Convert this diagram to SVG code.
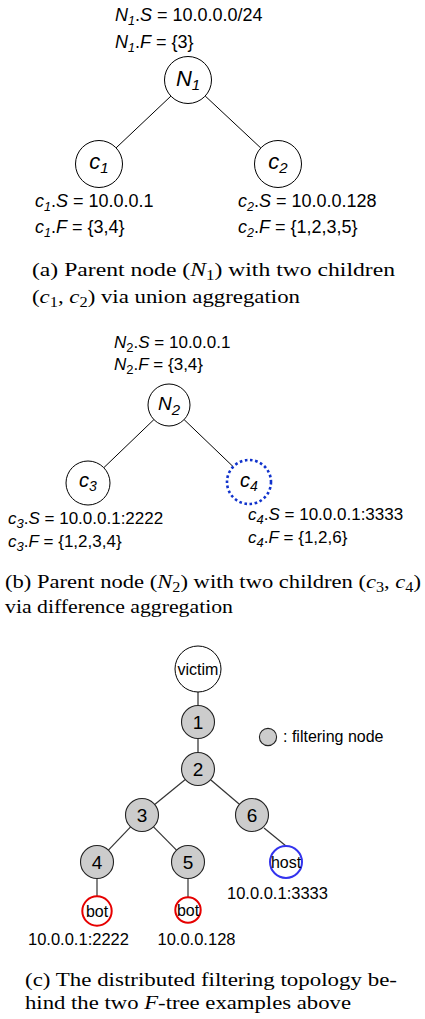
<svg xmlns="http://www.w3.org/2000/svg" width="425" height="1019" viewBox="0 0 425 1019">
<style>
  .sans { font-family: "Liberation Sans", Arial, sans-serif; fill: #000; }
  .serif { font-family: "Liberation Serif", "Times New Roman", serif; fill: #000; font-size: 19.5px; }
  .it { font-style: italic; }
  .la { font-size: 18px; }
  .lb { font-size: 17px; }
  .node { fill: #fff; stroke: #000; stroke-width: 1; }
  .fnode { fill: #cccccc; stroke: #222; stroke-width: 1.1; }
  .edge { stroke: #000; stroke-width: 1; fill: none; }
  .edgec { stroke: #333; stroke-width: 1.2; fill: none; }
  .bot { fill: #fff; stroke: #e60000; stroke-width: 2; }
  .host { fill: #fff; stroke: #3333ee; stroke-width: 2; }
  .dotted { fill: #fff; stroke: #1133cc; stroke-width: 2.6; stroke-dasharray: 2.6 2.6; }
  .nl { font-size: 19px; text-anchor: middle; }
  .tl { font-size: 16px; text-anchor: middle; }
</style>

<!-- connectors -->
<g id="connectors">
  <line class="edge" x1="170.9" y1="96.1" x2="116.1" y2="147.9"/>
  <line class="edge" x1="205.2" y1="96.0" x2="260.8" y2="148.0"/>
  <line class="edge" x1="153.9" y1="419.6" x2="103.8" y2="467.7"/>
  <line class="edge" x1="184.1" y1="419.6" x2="233.2" y2="466.7"/>
  <line class="edgec" x1="198" y1="692" x2="198" y2="705.5" style="stroke:#555;stroke-width:1.5"/>
  <line class="edgec" x1="198" y1="738.5" x2="198" y2="752.5" style="stroke:#555;stroke-width:1.5"/>
  <line class="edgec" x1="185.3" y1="779.5" x2="154.7" y2="804.5"/>
  <line class="edgec" x1="210.6" y1="779.7" x2="239.4" y2="804.3"/>
  <line class="edgec" x1="130.6" y1="826.9" x2="108.4" y2="850.1"/>
  <line class="edgec" x1="153.5" y1="826.8" x2="176.5" y2="850.2"/>
  <line class="edgec" x1="264" y1="828" x2="286" y2="846"/>
  <line class="edgec" x1="97" y1="878" x2="97" y2="896.3"/>
  <line class="edgec" x1="188" y1="878" x2="188" y2="897.3"/>
</g>

<!-- panel (a) -->
<g id="N1">
  <circle class="node" cx="188" cy="80" r="23.5"/>
  <text class="sans it" x="188" y="86" text-anchor="middle" font-size="22"><tspan>N</tspan><tspan font-size="15" dy="4">1</tspan></text>
  <text class="sans la" x="115" y="21"><tspan class="it">N</tspan><tspan class="it" font-size="12.5" dy="4">1</tspan><tspan dy="-4">.</tspan><tspan class="it">S</tspan> = 10.0.0.0/24</text>
  <text class="sans la" x="115" y="48"><tspan class="it">N</tspan><tspan class="it" font-size="12.5" dy="4">1</tspan><tspan dy="-4">.</tspan><tspan class="it">F</tspan> = {3}</text>
</g>
<g id="c1">
  <circle class="node" cx="99" cy="164" r="23.5"/>
  <text class="sans it" x="99" y="169" text-anchor="middle" font-size="22"><tspan>c</tspan><tspan font-size="15" dy="4">1</tspan></text>
  <text class="sans la" x="35" y="207"><tspan class="it">c</tspan><tspan class="it" font-size="12.5" dy="4">1</tspan><tspan dy="-4">.</tspan><tspan class="it">S</tspan> = 10.0.0.1</text>
  <text class="sans la" x="35" y="233"><tspan class="it">c</tspan><tspan class="it" font-size="12.5" dy="4">1</tspan><tspan dy="-4">.</tspan><tspan class="it">F</tspan> = {3,4}</text>
</g>
<g id="c2">
  <circle class="node" cx="278" cy="164" r="23.5"/>
  <text class="sans it" x="278" y="169" text-anchor="middle" font-size="22"><tspan>c</tspan><tspan font-size="15" dy="4">2</tspan></text>
  <text class="sans la" x="238" y="207"><tspan class="it">c</tspan><tspan class="it" font-size="12.5" dy="4">2</tspan><tspan dy="-4">.</tspan><tspan class="it">S</tspan> = 10.0.0.128</text>
  <text class="sans la" x="238" y="233"><tspan class="it">c</tspan><tspan class="it" font-size="12.5" dy="4">2</tspan><tspan dy="-4">.</tspan><tspan class="it">F</tspan> = {1,2,3,5}</text>
</g>
<g id="caption-a">
  <text class="serif" x="32" y="276" textLength="363" lengthAdjust="spacingAndGlyphs">(a) Parent node (<tspan class="it">N</tspan><tspan font-size="14" dy="4">1</tspan><tspan dy="-4">) with two children</tspan></text>
  <text class="serif" x="32" y="303" textLength="268" lengthAdjust="spacingAndGlyphs">(<tspan class="it">c</tspan><tspan font-size="14" dy="4">1</tspan><tspan dy="-4">, </tspan><tspan class="it">c</tspan><tspan font-size="14" dy="4">2</tspan><tspan dy="-4">) via union aggregation</tspan></text>
</g>

<!-- panel (b) -->
<g id="N2">
  <circle class="node" cx="169" cy="405" r="21"/>
  <text class="sans it" x="169" y="410" text-anchor="middle" font-size="19"><tspan>N</tspan><tspan font-size="15" dy="5">2</tspan></text>
  <text class="sans lb" x="114" y="348"><tspan class="it">N</tspan><tspan font-size="13" dy="4">2</tspan><tspan dy="-4">.</tspan><tspan class="it">S</tspan> = 10.0.0.1</text>
  <text class="sans lb" x="114" y="370"><tspan class="it">N</tspan><tspan font-size="13" dy="4">2</tspan><tspan dy="-4">.</tspan><tspan class="it">F</tspan> = {3,4}</text>
</g>
<g id="c3">
  <circle class="node" cx="88" cy="483" r="22"/>
  <text class="sans it" x="88" y="487" text-anchor="middle" font-size="20"><tspan>c</tspan><tspan font-size="14" dy="4">3</tspan></text>
  <text class="sans lb" x="8" y="524"><tspan class="it">c</tspan><tspan class="it" font-size="13" dy="4">3</tspan><tspan dy="-4">.</tspan><tspan class="it">S</tspan> = 10.0.0.1:2222</text>
  <text class="sans lb" x="8" y="547"><tspan class="it">c</tspan><tspan class="it" font-size="13" dy="4">3</tspan><tspan dy="-4">.</tspan><tspan class="it">F</tspan> = {1,2,3,4}</text>
</g>
<g id="c4">
  <circle class="dotted" cx="249" cy="482" r="22"/>
  <text class="sans it" x="249" y="487" text-anchor="middle" font-size="20"><tspan>c</tspan><tspan font-size="14" dy="4">4</tspan></text>
  <text class="sans lb" x="248" y="520"><tspan class="it">c</tspan><tspan class="it" font-size="13" dy="4">4</tspan><tspan dy="-4">.</tspan><tspan class="it">S</tspan> = 10.0.0.1:3333</text>
  <text class="sans lb" x="248" y="543"><tspan class="it">c</tspan><tspan class="it" font-size="13" dy="4">4</tspan><tspan dy="-4">.</tspan><tspan class="it">F</tspan> = {1,2,6}</text>
</g>
<g id="caption-b">
  <text class="serif" x="5" y="588" textLength="416" lengthAdjust="spacingAndGlyphs">(b) Parent node (<tspan class="it">N</tspan><tspan font-size="14" dy="4">2</tspan><tspan dy="-4">) with two children (</tspan><tspan class="it">c</tspan><tspan font-size="14" dy="4">3</tspan><tspan dy="-4">, </tspan><tspan class="it">c</tspan><tspan font-size="14" dy="4">4</tspan><tspan dy="-4">)</tspan></text>
  <text class="serif" x="5" y="613" textLength="228" lengthAdjust="spacingAndGlyphs">via difference aggregation</text>
</g>

<!-- panel (c) -->
<g id="victim">
  <circle class="node" cx="198" cy="669" r="23"/>
  <text class="sans tl" x="198" y="674.5">victim</text>
</g>
<g id="n1">
  <circle class="fnode" cx="198" cy="722" r="16.5"/>
  <text class="sans nl" x="198" y="729">1</text>
</g>
<g id="n2">
  <circle class="fnode" cx="198" cy="769" r="16.5"/>
  <text class="sans nl" x="198" y="776">2</text>
</g>
<g id="n3">
  <circle class="fnode" cx="142" cy="815" r="16.5"/>
  <text class="sans nl" x="142" y="822">3</text>
</g>
<g id="n6">
  <circle class="fnode" cx="252" cy="815" r="16.5"/>
  <text class="sans nl" x="252" y="822">6</text>
</g>
<g id="n4">
  <circle class="fnode" cx="97" cy="862" r="16.5"/>
  <text class="sans nl" x="97" y="869">4</text>
</g>
<g id="n5">
  <circle class="fnode" cx="188" cy="862" r="16.5"/>
  <text class="sans nl" x="188" y="869">5</text>
</g>
<g id="host">
  <circle class="host" cx="286" cy="862" r="16"/>
  <text class="sans tl" x="286" y="867.5">host</text>
  <text class="sans" x="227" y="899" font-size="16.5">10.0.0.1:3333</text>
</g>
<g id="bot1">
  <circle class="bot" cx="97" cy="911" r="14.7"/>
  <text class="sans tl" x="97" y="916.5">bot</text>
  <text class="sans" x="28" y="945" font-size="16.5">10.0.0.1:2222</text>
</g>
<g id="bot2">
  <circle class="bot" cx="188" cy="910" r="12.7"/>
  <text class="sans tl" x="188" y="915.5">bot</text>
  <text class="sans" x="157.5" y="945" font-size="16.5">10.0.0.128</text>
</g>
<g id="legend">
  <circle class="fnode" cx="268" cy="737" r="8.6"/>
  <text class="sans" x="283" y="742" font-size="16">: filtering node</text>
</g>
<g id="caption-c">
  <text class="serif" x="25" y="986" textLength="372" lengthAdjust="spacingAndGlyphs">(c) The distributed filtering topology be-</text>
  <text class="serif" x="25" y="1009" textLength="326" lengthAdjust="spacingAndGlyphs">hind the two <tspan class="it">F</tspan>-tree examples above</text>
</g>
</svg>
